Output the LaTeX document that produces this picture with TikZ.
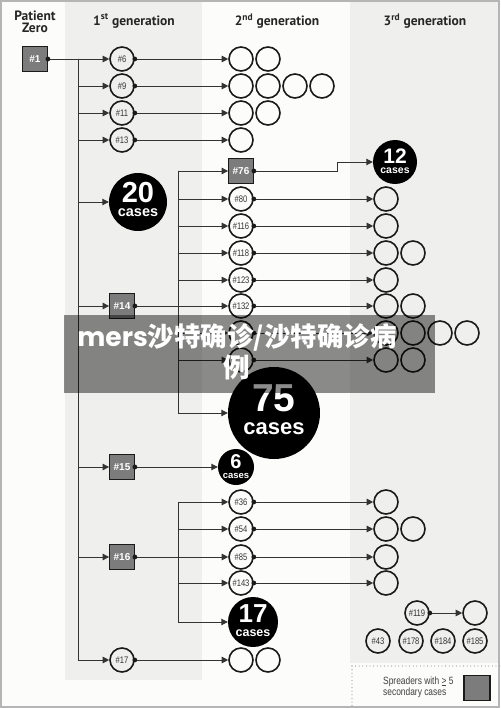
\documentclass[tikz,border=0pt]{standalone}
\usepackage{fontspec}
\setmainfont{Liberation Sans}
\newfontfamily\hdr{PT Sans}
\newfontfamily\nar{Liberation Sans}[FakeStretch=0.8]
\newfontfamily\cjk{Noto Sans CJK SC}
\newfontfamily\pop{Poppins}
\usetikzlibrary{arrows.meta}
\definecolor{band}{HTML}{EFEFED}
\definecolor{paper}{HTML}{FCFCFA}
\definecolor{sqfill}{HTML}{7C7C7C}
\definecolor{ink}{HTML}{1A1A1A}
\definecolor{frame}{HTML}{B5B5B5}
\tikzset{
  pc/.style={circle, draw=ink, line width=1.6pt, minimum size=24pt, inner sep=0pt,
    font=\nar\fontsize{9.5}{10}\selectfont, text=black!80},
  sq/.style={rectangle, draw=ink, line width=1.3pt, fill=sqfill, minimum size=24.5pt,
    inner sep=0pt, text=white, font=\bfseries\fontsize{10}{10}\selectfont},
  bigc/.style={circle, fill=black, inner sep=0pt, minimum size=#1},
  num/.style={text=white, font=\bfseries\fontsize{#1}{#1}\selectfont, inner sep=0pt},
  ln/.style={line width=0.9pt, draw=black!80, -{Triangle[length=6.5pt,width=6.5pt]}},
  hd/.style={font=\hdr\bfseries\fontsize{13.5}{14}\selectfont, text=black!85, align=center},
}
\begin{document}
\begin{tikzpicture}[x=1pt,y=-1pt]
\useasboundingbox (0,0) rectangle (500,708);
% background
\fill[paper] (0,0) rectangle (500,708);
\fill[band] (65,2) rectangle (202,680);
\fill[band] (350,2) rectangle (498,663);
\draw[frame, line width=2pt] (1,1) rectangle (499,707);
% headers
\node[hd] (hpz) at (35,22) {Patient\\[-2pt]Zero};
\node[hd] (h1) at (134,21) {1\textsuperscript{st} generation};
\node[hd] (h2) at (277,21) {2\textsuperscript{nd} generation};
\node[hd] (h3) at (425,21) {3\textsuperscript{rd} generation};
% patient zero and 1st generation
\node[sq] (n1) at (35,59) {\#1};
\node[pc] (n6) at (122,59) {\#6};
\node[pc] (n9) at (122,86) {\#9};
\node[pc] (n11) at (122,113) {\#11};
\node[pc] (n13) at (122,140) {\#13};
\node[bigc=58pt] (c20) at (138,202) {};
\node[num=29] (c20n) at (138,193) {20};
\node[num=14.5] (c20c) at (138,213) {cases};
\node[sq] (n14) at (122,306) {\#14};
\node[sq] (n15) at (122,467) {\#15};
\node[sq] (n16) at (122,557) {\#16};
\node[pc] (n17) at (122,660) {\#17};
% 2nd generation
\node[pc] (a1) at (241,59) {};
\node[pc] (a2) at (268,59) {};
\node[pc] (b1) at (241,86) {};
\node[pc] (b2) at (268,86) {};
\node[pc] (b3) at (295,86) {};
\node[pc] (b4) at (322,86) {};
\node[pc] (c1) at (241,113) {};
\node[pc] (c2) at (268,113) {};
\node[pc] (d1) at (241,140) {};
\node[sq] (n76) at (241,171) {\#76};
\node[pc] (n80) at (241,199) {\#80};
\node[pc] (n116) at (241,226) {\#116};
\node[pc] (n118) at (241,253) {\#118};
\node[pc] (n123) at (241,280) {\#123};
\node[pc] (n132) at (241,306) {\#132};
\node[pc] (u1) at (241,333) {};
\node[pc] (u2) at (241,360) {};
\node[bigc=92pt] (c75) at (274,413) {};
\node[num=39] (c75n) at (274,398) {75};
\node[num=22] (c75c) at (274,429) {cases};
\node[bigc=36pt] (c6) at (236,467) {};
\node[num=20] (c6n) at (236,462) {6};
\node[num=9.5] (c6c) at (236,476) {cases};
\node[pc] (n36) at (241,502) {\#36};
\node[pc] (n54) at (241,529) {\#54};
\node[pc] (n85) at (241,557) {\#85};
\node[pc] (n143) at (241,583) {\#143};
\node[bigc=50pt] (c17) at (253,622) {};
\node[num=26] (c17n) at (253,614) {17};
\node[num=12.5] (c17c) at (253,633) {cases};
\node[pc] (r17a) at (241,660) {};
\node[pc] (r17b) at (268,660) {};
% 3rd generation
\node[bigc=44pt] (c12) at (395,162) {};
\node[num=21] (c12n) at (395,156) {12};
\node[num=10.5] (c12c) at (395,171) {cases};
\node[pc] (e80) at (386,199) {};
\node[pc] (e116) at (386,226) {};
\node[pc] (e118a) at (386,253) {};
\node[pc] (e118b) at (413,253) {};
\node[pc] (e123) at (386,280) {};
\node[pc] (e132a) at (386,306) {};
\node[pc] (e132b) at (413,306) {};
\node[pc] (eu1a) at (386,333) {};
\node[pc] (eu1b) at (413,333) {};
\node[pc] (eu1c) at (440,333) {};
\node[pc] (eu1d) at (467,333) {};
\node[pc] (eu2a) at (386,360) {};
\node[pc] (eu2b) at (413,360) {};
\node[pc] (e36) at (386,502) {};
\node[pc] (e54a) at (386,529) {};
\node[pc] (e54b) at (413,529) {};
\node[pc] (e85) at (386,557) {};
\node[pc] (e143) at (386,583) {};
\node[pc] (n119) at (417,613) {\#119};
\node[pc] (e119) at (475,613) {};
\node[pc] (n43) at (378,641) {\#43};
\node[pc] (n178) at (411,641) {\#178};
\node[pc] (n184) at (443,641) {\#184};
\node[pc] (n185) at (475,641) {\#185};
% connectors: patient zero
\coordinate (t1) at (78,59);
\draw[ln] (n1.east) -- (n6.west);
\foreach \m in {n9,n11,n13,c20,n14,n15,n16,n17} {\draw[ln] (t1) |- (\m.west);}
% 1st -> 2nd
\draw[ln] (n6.east) -- (a1.west);
\draw[ln] (n9.east) -- (b1.west);
\draw[ln] (n11.east) -- (c1.west);
\draw[ln] (n13.east) -- (d1.west);
\draw[ln] (n14.east) -- (n132.west);
\draw[ln] (n15.east) -- (c6.west);
\draw[ln] (n16.east) -- (n85.west);
\draw[ln] (n17.east) -- (r17a.west);
\coordinate (t2) at (178,171);
\foreach \m in {n76,n80,n116,n118,n123,u1,u2,c75} {\draw[ln] (t2) |- (\m.west);}
\coordinate (t3) at (178,502);
\foreach \m in {n36,n54,n143,c17} {\draw[ln] (t3) |- (\m.west);}
% 2nd -> 3rd
\coordinate (k76) at (337,171);
\draw[ln] (n76.east) -- (k76) |- (c12.west);
\draw[ln] (n80.east) -- (e80.west);
\draw[ln] (n116.east) -- (e116.west);
\draw[ln] (n118.east) -- (e118a.west);
\draw[ln] (n123.east) -- (e123.west);
\draw[ln] (n132.east) -- (e132a.west);
\draw[ln] (u1.east) -- (eu1a.west);
\draw[ln] (u2.east) -- (eu2a.west);
\draw[ln] (n36.east) -- (e36.west);
\draw[ln] (n54.east) -- (e54a.west);
\draw[ln] (n85.east) -- (e85.west);
\draw[ln] (n143.east) -- (e143.west);
\draw[ln] (n119.east) -- (e119.west);
% source dots
\foreach \m in {n1,n6,n9,n11,n13,n14,n15,n16,n17,n76,n80,n116,n118,n123,n132,u1,u2,n36,n54,n85,n143,n119}
  {\fill[ink] (\m.east) circle (2.4pt);}
% legend
\draw[frame!90!black, line width=1.3pt, line cap=round, dash pattern=on 0pt off 3.6pt] (352,666) -- (500,666);
\draw[frame!90!black, line width=1.3pt, line cap=round, dash pattern=on 0pt off 3.6pt] (352,666) -- (352,708);
\node[anchor=west, align=left, inner sep=0pt, text=black!75, font=\nar\fontsize{10.5}{11}\selectfont] (lgt) at (383,687) {Spreaders with \underline{>} 5\\secondary cases};
\node[sq, minimum width=26pt, minimum height=25pt] (lgs) at (477,688) {};
% overlay
\fill[black, opacity=0.45] (64,315) rectangle (435,393);
\node[text=white, align=center, inner sep=0pt, font=\cjk\bfseries\fontsize{26.5}{31}\selectfont] (ov) at (237,352) {{\pop\bfseries mers}沙特确诊/沙特确诊病\\例};
\end{tikzpicture}
\end{document}
